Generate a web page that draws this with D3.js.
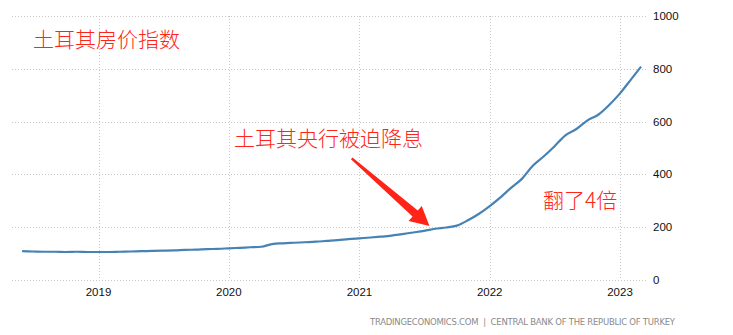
<!DOCTYPE html>
<html>
<head>
<meta charset="utf-8">
<script src="https://cdn.jsdelivr.net/npm/d3@7"></script>
<style>
  body { margin: 0; background: #fff; }
  svg { display: block; }
  .tick-label { font-family: "Liberation Sans", Arial, sans-serif; font-size: 11.5px; fill: #111; }
  .note { font-family: "Noto Sans CJK SC", sans-serif; font-size: 21px; font-weight: 300; fill: #ff2418; }
</style>
</head>
<body>
<div id="chart"></div>
<script>
// monthly house price index, Jun 2018 .. Mar 2023
var startMonth = "2018-06";
var values = [
  109, 108, 107, 107, 106, 107, 106,                      // 2018 Jun-Dec
  106, 106, 107, 108, 109, 110, 111, 112, 114, 115, 117, 118, // 2019
  120, 122, 124, 126, 136, 139, 141, 143, 145, 148, 151, 155, // 2020
  158, 161, 164, 168, 174, 180, 186, 194, 199, 206, 226, 250, // 2021
  280, 314, 348, 383, 432, 468, 506, 548, 572, 604, 626, 662, // 2022
  707, 760, 808                                           // 2023 Jan-Mar
];
var yTicks = [0, 200, 400, 600, 800, 1000];
var xTicks = ["2019", "2020", "2021", "2022", "2023"];

var title = "土耳其房价指数";
var noteRate = "土耳其央行被迫降息";
var noteTimes = "翻了4倍";
var source = "TRADINGECONOMICS.COM  |  CENTRAL BANK OF THE REPUBLIC OF TURKEY";

var svgWidth = 733;
var svgHeight = 335;

var parseMonth = d3.timeParse("%Y-%m");
var start = parseMonth(startMonth);
var data = values.map(function(v, i) {
  return { date: d3.timeMonth.offset(start, i), value: v };
});

var svg = d3.select("#chart")
  .append("svg")
  .attr("width", svgWidth)
  .attr("height", svgHeight);

var xScale = d3.scaleTime()
  .domain([new Date(2019, 0, 1), new Date(2023, 0, 1)])
  .range([98.5, 620]);

var yScale = d3.scaleLinear()
  .domain([0, 1000])
  .range([280, 16]);

var gridLeft = 12, gridRight = 647;

// horizontal grid
svg.append("g").selectAll("line")
  .data(yTicks)
  .enter().append("line")
  .attr("x1", gridLeft)
  .attr("x2", gridRight)
  .attr("y1", d => Math.round(yScale(d)) + 0.5)
  .attr("y2", d => Math.round(yScale(d)) + 0.5)
  .attr("stroke", "#c8c8c8")
  .attr("stroke-dasharray", "1,2");

// vertical grid
var xTickDates = xTicks.map(t => new Date(+t, 0, 1));
svg.append("g").selectAll("line")
  .data(xTickDates)
  .enter().append("line")
  .attr("x1", d => Math.round(xScale(d)) + 0.5)
  .attr("x2", d => Math.round(xScale(d)) + 0.5)
  .attr("y1", yScale(1000))
  .attr("y2", yScale(0))
  .attr("stroke", "#c8c8c8")
  .attr("stroke-dasharray", "1,2");

// y labels
svg.append("g").selectAll("text")
  .data(yTicks)
  .enter().append("text")
  .attr("class", "tick-label")
  .attr("x", 653)
  .attr("y", d => yScale(d))
  .attr("dy", "0.35em")
  .text(d => d);

// x labels
svg.append("g").selectAll("text")
  .data(xTickDates)
  .enter().append("text")
  .attr("class", "tick-label")
  .attr("x", d => xScale(d))
  .attr("y", 296)
  .attr("text-anchor", "middle")
  .text(d => d3.timeFormat("%Y")(d));

// the line
var line = d3.line()
  .x(d => xScale(d.date))
  .y(d => yScale(d.value))
  .curve(d3.curveMonotoneX);

svg.append("path")
  .datum(data)
  .attr("d", line)
  .attr("fill", "none")
  .attr("stroke", "#4682b4")
  .attr("stroke-width", 2.2)
  .attr("stroke-linejoin", "round");

// annotations
svg.append("text").attr("class", "note").attr("x", 33).attr("y", 47).text(title);
svg.append("text").attr("class", "note").attr("x", 234).attr("y", 146).text(noteRate);
svg.append("text").attr("class", "note").attr("x", 543).attr("y", 208).text(noteTimes);

// arrow pointing at the line
var tail = [351.7, 158.3], tip = [429.5, 226];
var dx = tip[0] - tail[0], dy = tip[1] - tail[1];
var len = Math.sqrt(dx * dx + dy * dy);
var ux = dx / len, uy = dy / len, nx = -uy, ny = ux;
var headLen = 19;
var bx = tip[0] - ux * headLen, by = tip[1] - uy * headLen;
var pts = [
  [tail[0] + nx * 1.2, tail[1] + ny * 1.2],
  [bx + nx * 4, by + ny * 4],
  [bx + nx * 10, by + ny * 10],
  tip,
  [bx - nx * 10, by - ny * 10],
  [bx - nx * 4, by - ny * 4],
  [tail[0] - nx * 1.2, tail[1] - ny * 1.2]
];
svg.append("path")
  .attr("d", "M" + pts.map(p => p.join(",")).join("L") + "Z")
  .attr("fill", "#ff2418");

// source
svg.append("text")
  .attr("x", 370)
  .attr("y", 325)
  .attr("textLength", 305)
  .attr("lengthAdjust", "spacing")
  .style("font-family", "'DejaVu Sans', sans-serif")
  .style("font-size", "8.5px")
  .style("fill", "#8a8a8a")
  .style("white-space", "pre")
  .text(source);
</script>
</body>
</html>
